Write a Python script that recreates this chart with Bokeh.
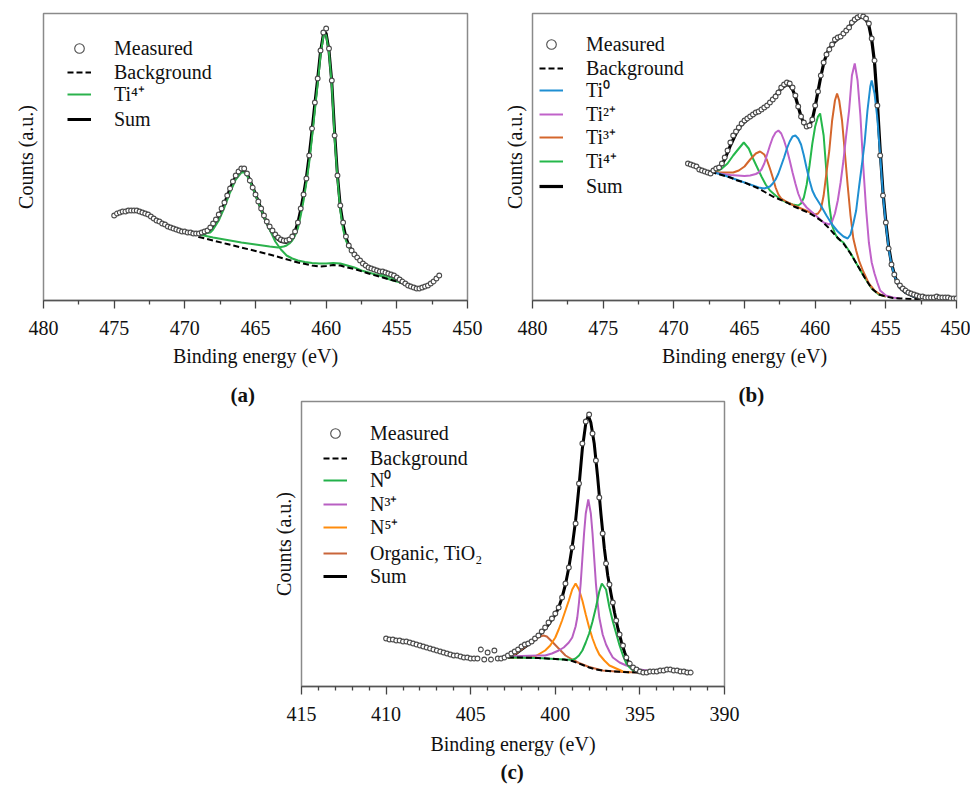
import numpy as np
from bokeh.plotting import figure
from bokeh.models import Range1d, FixedTicker, Legend, LegendItem, Title, Spacer
from bokeh.layouts import row, column
from bokeh.embed import file_html
from bokeh.resources import INLINE

FONT = "Liberation Serif, Times New Roman, serif"

# ---------------- Panel (a): Ti 2p, single Ti4+ state ----------------
a_meas_start, a_meas_step = 475.0, 0.2
a_meas_counts = [
    85, 87, 88, 89, 89, 90, 90, 90, 90, 89,
    88, 87, 86, 84, 82, 80, 79, 77, 76, 74,
    73, 72, 71, 70, 69, 69, 68, 68, 67, 67,
    67, 68, 69, 70, 73, 77, 81, 86, 92, 98,
    105, 112, 119, 125, 129, 132, 132, 127, 120, 113,
    106, 99, 92, 85, 79, 74, 70, 66, 63, 61,
    60, 60, 61, 64, 69, 78, 92, 106, 122, 145,
    172, 198, 222, 250, 268, 272, 252, 220, 165, 125,
    95, 78, 64, 55, 50, 46, 43, 40, 37, 35,
    33, 32, 31, 30, 29, 29, 28, 27, 26, 25,
    23, 21, 19, 17, 15, 14, 13, 12, 12, 13,
    14, 15, 17, 19, 22, 25]
a_meas_energy = np.round(a_meas_start - a_meas_step * np.arange(len(a_meas_counts)), 2)

a_sum_energy = [469.6, 469.0, 468.6, 468.2, 468.0, 467.6, 467.2, 466.8, 466.4, 466.0,
                465.8, 465.6, 465.2, 464.8, 464.4, 464.0, 463.6, 463.2, 462.8, 462.4,
                462.2, 462.0, 461.8, 461.6, 461.4, 461.2, 461.0, 460.8, 460.6, 460.4,
                460.2, 460.1, 460.0, 459.8, 459.6, 459.4, 459.2, 459.0, 458.8, 458.6,
                458.4, 458.0, 457.5, 457.0, 456.5, 456.0, 455.5, 455.0, 454.5, 454.0, 453.8]
a_sum_counts = [68, 66.5, 67, 70, 74, 84, 97, 112, 124, 130,
                130, 127, 114, 99, 84, 72, 63, 59, 58, 63,
                69, 78, 91, 106, 123, 145, 170, 197, 222, 249,
                266, 269, 267, 250, 218, 168, 125, 94, 76, 63,
                55, 46, 39, 33, 30, 28, 26, 22, 18, 14, 13]

a_bg_energy = [469.6, 469.0, 468.0, 467.0, 466.0, 465.0, 464.0, 463.0, 462.0, 461.0,
               460.5, 460.0, 459.5, 459.0, 458.5, 458.0, 457.0, 456.0, 455.0, 454.4, 453.8]
a_bg_counts = [68, 63.5, 60, 56.5, 53, 49.5, 46, 42, 38, 35,
               34, 34.5, 35.5, 35, 33, 31.5, 27, 23, 19, 16, 13]

# Ti4+ 2p1/2 component (peak near 465.9 eV), drawn on the background
a_ti4_hi_energy = [469.6, 469.0, 468.6, 468.2, 468.0, 467.6, 467.2, 466.8, 466.4, 466.0,
                   465.8, 465.6, 465.2, 464.8, 464.4, 464.0, 463.6, 463.2, 462.8, 462.4,
                   462.0, 461.5, 461.0, 460.5, 460.0, 459.5, 459.0, 458.5, 458.0, 457.5,
                   457.0, 456.5, 456.0, 455.5, 455.0, 454.5, 454.0, 453.8]
a_ti4_hi_counts = [68, 67, 67, 68, 71, 80, 93, 108, 121, 128,
                   128, 125, 113, 98, 84, 71, 59, 51, 45, 42,
                   40, 38.5, 37.5, 37, 37, 37.5, 37, 35, 33, 30,
                   28, 26, 24, 21, 19, 17, 14, 13]

# Ti4+ 2p3/2 component (peak near 460.1 eV)
a_ti4_lo_energy = [469.6, 469.0, 468.0, 467.0, 466.0, 465.0, 464.0, 463.4, 463.0, 462.8,
                   462.6, 462.4, 462.2, 462.0, 461.8, 461.6, 461.4, 461.2, 461.0, 460.8,
                   460.6, 460.4, 460.2, 460.1, 460.0, 459.8, 459.6, 459.4, 459.2, 459.0,
                   458.8, 458.6, 458.4, 458.2, 458.0, 457.5, 457.0, 456.5, 456.0, 455.5,
                   455.0, 454.5, 454.0, 453.8]
a_ti4_lo_counts = [68, 66, 63, 60.5, 58, 56, 54, 53, 54, 55,
                   57, 60, 65, 72, 85, 100, 118, 138, 163, 190,
                   217, 245, 264, 267, 265, 248, 215, 162, 122, 90,
                   71, 60, 53, 49, 45, 38, 33, 29, 26, 23.5,
                   20.5, 17, 14, 13]

# ---------------- Panel (b): Ti 2p, four oxidation states ----------------
b_meas_start, b_meas_step = 469.0, 0.2
b_meas_counts = [
    137, 136, 135, 134, 131, 130, 129, 128, 127, 130,
    132, 133, 137, 143, 150, 158, 165, 169, 173, 177,
    180, 182, 184, 186, 188, 189, 191, 193, 195, 198,
    201, 204, 208, 213, 216, 218, 217, 213, 205, 194,
    184, 178, 174, 175, 181, 195, 209, 225, 238, 246,
    251, 256, 261, 263, 264, 267, 270, 273, 278, 281,
    283, 285, 284, 282, 277, 262, 240, 195, 145, 105,
    78, 52, 36, 26, 19, 15, 12, 10, 8, 7,
    6, 5, 4, 4, 3, 3, 3, 3, 4, 3,
    3, 3, 3, 2, 2, 2]
b_meas_energy = np.round(b_meas_start - b_meas_step * np.arange(len(b_meas_counts)), 2)

b_sum_energy = [467.6, 467.2, 466.8, 466.4, 466.0, 465.6, 465.2, 464.8, 464.4, 464.0,
                463.6, 463.2, 462.8, 462.4, 462.0, 461.8, 461.6, 461.4, 461.2, 461.0,
                460.8, 460.6, 460.4, 460.2, 460.0, 459.8, 459.6, 459.4, 459.2, 459.0,
                458.6, 458.2, 457.8, 457.4, 457.0, 456.8, 456.6, 456.4, 456.2, 456.0,
                455.8, 455.6, 455.4, 455.2, 455.0, 454.8, 454.6, 454.4, 454.2, 454.0,
                453.6, 453.0, 452.5]
b_sum_counts = [128, 129, 132, 141, 155, 167, 176, 181, 185, 189,
                193, 198, 205, 212, 216, 215, 211, 204, 194, 184,
                177, 174, 175, 181, 194, 209, 224, 237, 246, 252,
                259, 264, 270, 277, 282, 283, 283, 281, 275, 261,
                238, 198, 150, 108, 78, 54, 37, 26, 18, 13,
                8, 4, 2.5]

b_bg_energy = [467.4, 467.0, 466.5, 466.0, 465.5, 465.0, 464.5, 464.0, 463.5, 463.0,
               462.5, 462.0, 461.5, 461.0, 460.5, 460.0, 459.5, 459.0, 458.5, 458.0,
               457.5, 457.0, 456.5, 456.0, 455.5, 455.0, 454.5, 454.0, 453.0, 452.5]
b_bg_counts = [129, 127, 125, 123, 120, 118, 115, 112, 108, 104,
               101, 98, 94, 91, 88, 84, 79, 72, 64, 57,
               47, 35, 23, 12, 6, 4, 2.5, 2, 1.5, 1.5]

b_ti0_energy = [467.4, 466.5, 465.5, 464.5, 464.0, 463.6, 463.2, 463.0, 462.8, 462.6,
                462.4, 462.2, 462.0, 461.8, 461.6, 461.4, 461.2, 461.0, 460.8, 460.6,
                460.4, 460.2, 460.0, 459.6, 459.2, 458.8, 458.4, 458.0, 457.7, 457.5,
                457.3, 457.1, 456.9, 456.7, 456.5, 456.3, 456.1, 456.0, 455.8, 455.6,
                455.4, 455.2, 455.0, 454.8, 454.6, 454.4, 454.2, 454.0, 453.6, 453.0, 452.5]
b_ti0_counts = [129, 125.5, 120.5, 115.5, 113, 112, 114, 117, 121, 127,
                135, 143, 152, 159, 164, 165, 162, 156, 145, 132,
                120, 110, 104, 95, 85, 76, 69, 64, 62, 66,
                77, 90, 113, 135, 158, 190, 214, 220, 207, 182,
                145, 105, 76, 52, 36, 25, 18, 13, 8, 4, 2.5]

b_ti2_energy = [467.4, 467.0, 466.5, 466.0, 465.5, 465.0, 464.6, 464.2, 464.0, 463.8,
                463.6, 463.4, 463.2, 463.0, 462.8, 462.6, 462.4, 462.2, 462.0, 461.8,
                461.6, 461.4, 461.2, 461.0, 460.6, 460.2, 459.8, 459.4, 459.0, 458.8,
                458.6, 458.4, 458.2, 458.0, 457.8, 457.6, 457.4, 457.2, 457.0, 456.8,
                456.6, 456.4, 456.2, 456.0, 455.8, 455.6, 455.4, 455.0, 454.5, 454.0]
b_ti2_counts = [129, 127.5, 126.5, 125.5, 125, 124.5, 125, 126.5, 128, 131,
                137, 146, 155, 163, 168, 170, 167, 160, 151, 140,
                128, 117, 107, 100, 93, 88, 83, 78, 76, 79,
                87, 100, 118, 140, 166, 190, 225, 237, 220, 185,
                135, 92, 58, 38, 27, 18, 10, 5, 3, 2]

b_ti3_energy = [467.4, 466.8, 466.2, 465.8, 465.4, 465.0, 464.6, 464.2, 463.9, 463.6,
                463.4, 463.2, 463.0, 462.8, 462.6, 462.4, 462.0, 461.5, 461.0, 460.5,
                460.0, 459.8, 459.6, 459.4, 459.2, 459.0, 458.8, 458.6, 458.45, 458.3,
                458.1, 457.9, 457.7, 457.5, 457.3, 457.1, 456.9, 456.6, 456.2, 455.8,
                455.4, 455.0]
b_ti3_counts = [129, 128, 128, 128, 130, 134, 141, 147, 149, 146,
                140, 132, 123, 113, 106, 102, 98.5, 95, 92, 89,
                86, 87, 91, 105, 128, 150, 180, 200, 207, 200,
                180, 148, 115, 85, 62, 50, 40, 29, 17, 10,
                6, 4]

b_ti4_energy = [467.4, 467.0, 466.6, 466.2, 465.8, 465.4, 465.05, 464.7, 464.4, 464.1,
                463.8, 463.5, 463.2, 462.8, 462.4, 462.0, 461.6, 461.2, 461.0, 460.8,
                460.6, 460.4, 460.2, 460.0, 459.8, 459.65, 459.4, 459.2, 459.0, 458.8,
                458.6, 458.4, 458.0, 457.5, 457.0, 456.5, 456.0, 455.5, 455.0]
b_ti4_counts = [129, 129, 132, 137, 145, 152, 158, 152, 142, 133,
                124, 116, 110, 105, 101, 98, 96, 95, 97, 103,
                116, 135, 157, 174, 184, 187, 165, 128, 95, 75,
                67, 62, 58, 47.5, 35, 23, 12, 6, 4]

# ---------------- Panel (c): N 1s ----------------
c_meas_start, c_meas_step = 410.0, 0.2
c_meas_counts = [
    48, 47, 47, 46, 46, 45, 45, 44, 43, 42,
    41, 40, 39, 38, 37, 36, 35, 34, 33, 32,
    31, 31, 30, 29, 29, 28, 28, 28, 37, 27,
    34, 27, 36, 28, 28, 29, 31, 33, 35, 37,
    40, 42, 43, 45, 48, 51, 55, 59, 64, 68,
    73, 79, 89, 103, 119, 139, 163, 203, 243, 265,
    272, 253, 226, 189, 153, 123, 102, 84, 66, 52,
    41, 29, 23, 19, 17, 15, 14, 14, 15, 15,
    15, 16, 16, 17, 17, 16, 16, 15, 15, 14,
    14]
c_meas_energy = np.round(c_meas_start - c_meas_step * np.arange(len(c_meas_counts)), 2)

c_sum_energy = [402.8, 402.4, 402.0, 401.6, 401.2, 400.8, 400.4, 400.0, 399.8, 399.6,
                399.4, 399.2, 399.0, 398.8, 398.6, 398.4, 398.2, 398.05, 397.9, 397.7,
                397.5, 397.3, 397.1, 396.9, 396.7, 396.5, 396.3, 396.1, 395.9, 395.7,
                395.5, 395.3, 395.1]
c_sum_counts = [29, 32, 37, 42, 47, 54, 62, 72, 79, 89,
                102, 119, 140, 166, 200, 238, 263, 271, 264, 243,
                210, 172, 138, 111, 92, 74, 58, 45, 34, 25,
                19, 16, 15]

c_bg_energy = [402.8, 402.0, 401.0, 400.5, 400.0, 399.5, 399.0, 398.6, 398.3, 398.0,
               397.6, 397.2, 396.6, 396.0, 395.0, 394.6]
c_bg_counts = [29, 29, 28.5, 28, 27.5, 27, 25.5, 23, 21, 19,
               17, 16, 15, 14.5, 14, 14]

c_n0_energy = [402.8, 401.0, 400.0, 399.4, 399.0, 398.8, 398.6, 398.4, 398.2, 398.0,
               397.8, 397.6, 397.4, 397.25, 397.0, 396.8, 396.6, 396.4, 396.2, 396.0,
               395.8, 395.6, 395.4, 395.2, 395.0]
c_n0_counts = [29, 28.5, 27.5, 27, 26.5, 28, 31, 36, 44, 53,
               65, 79, 95, 103, 97, 79, 65, 53, 41, 31,
               23, 19, 16, 14.5, 14]

c_n3_energy = [402.8, 402.0, 401.0, 400.6, 400.2, 399.8, 399.5, 399.2, 399.0, 398.8,
               398.7, 398.6, 398.5, 398.4, 398.3, 398.2, 398.05, 397.9, 397.8, 397.7,
               397.6, 397.5, 397.4, 397.2, 397.0, 396.8, 396.6, 396.2, 395.8, 395.4,
               395.0, 394.6, 394.2]
c_n3_counts = [30, 30.5, 31, 31, 33, 36, 39, 44, 49, 60,
               69, 84, 103, 128, 153, 173, 187, 173, 153, 128,
               103, 84, 69, 52, 42, 35, 29, 24, 21, 19,
               17, 16, 15]

c_n5_energy = [402.8, 402.0, 401.5, 401.2, 400.9, 400.6, 400.3, 400.0, 399.8, 399.6,
               399.4, 399.2, 399.0, 398.8, 398.6, 398.4, 398.2, 398.0, 397.8, 397.6,
               397.4, 397.1, 396.8, 396.4, 396.0, 395.6]
c_n5_counts = [29, 29, 29, 30, 33, 36, 41, 49, 57, 66,
               76, 86, 97, 103, 97, 86, 72, 59, 48, 39,
               32, 26, 21, 18, 15, 14]

c_org_energy = [402.8, 402.4, 402.0, 401.6, 401.2, 400.9, 400.7, 400.5, 400.2, 399.8,
                399.4, 399.0, 398.6, 398.0, 397.2, 396.0, 395.0]
c_org_counts = [29, 32, 37, 42, 47, 50, 51, 50, 45, 38,
                31, 27, 23.5, 19.5, 16, 14.5, 14]

# axis ticks
ti_ticks = [450, 455, 460, 465, 470, 475, 480]
ti_minor = [452.5, 457.5, 462.5, 467.5, 472.5, 477.5]
n_ticks = [390, 395, 400, 405, 410, 415]
n_minor = [391, 392, 393, 394, 396, 397, 398, 399, 401, 402, 403, 404,
           406, 407, 408, 409, 411, 412, 413, 414]

GREEN_A = "#2bb24c"
BLUE = "#1f8fd2"
MAGENTA = "#c062c9"
ORANGE_B = "#d4662c"
GREEN_B = "#25b84b"
GREEN_C = "#22b14a"
PURPLE_C = "#b85fc2"
ORANGE_C = "#ff8c0d"
BROWN_C = "#c9653a"

ROW_H = 24


def make_fig(width, height, xr, ymax, left, right, top, bottom):
    p = figure(width=width, height=height, x_range=Range1d(*xr), y_range=Range1d(0, ymax),
               output_backend="svg", toolbar_location=None,
               min_border_left=left, min_border_right=right,
               min_border_top=top, min_border_bottom=bottom)
    p.xgrid.visible = False
    p.ygrid.visible = False
    p.outline_line_color = "#8a8a8a"
    p.outline_line_width = 1.5
    return p


def style_axes(p, ticks, minor, label_standoff=7):
    xa = p.xaxis[0]
    xa.ticker = FixedTicker(ticks=ticks, minor_ticks=minor)
    xa.axis_label = "Binding energy (eV)"
    xa.axis_label_text_font = FONT
    xa.axis_label_text_font_size = "20px"
    xa.axis_label_text_font_style = "normal"
    xa.axis_label_text_color = "#111111"
    xa.axis_label_standoff = label_standoff
    xa.major_label_text_font = FONT
    xa.major_label_text_font_size = "20px"
    xa.major_label_text_color = "#111111"
    xa.major_label_standoff = 12
    xa.axis_line_color = "#555555"
    xa.axis_line_width = 1.5
    xa.major_tick_line_color = "#444444"
    xa.major_tick_line_width = 1.3
    xa.minor_tick_line_color = "#444444"
    xa.minor_tick_line_width = 1.3
    xa.major_tick_in = 0
    xa.major_tick_out = 8
    xa.minor_tick_in = 0
    xa.minor_tick_out = 4

    ya = p.yaxis[0]
    ya.ticker = FixedTicker(ticks=[])
    ya.axis_label = "Counts (a.u.)"
    ya.axis_label_text_font = FONT
    ya.axis_label_text_font_size = "20px"
    ya.axis_label_text_font_style = "normal"
    ya.axis_label_text_color = "#111111"
    ya.axis_label_standoff = 7
    ya.major_label_standoff = 0
    ya.major_tick_out = 0
    ya.major_tick_in = 0
    ya.minor_tick_out = 0
    ya.minor_tick_in = 0
    ya.axis_line_color = None


def add_caption(p, text, offset, standoff):
    p.add_layout(Title(text=text, align="left", offset=offset, standoff=standoff,
                       text_font=FONT, text_font_size="21px", text_font_style="bold",
                       text_color="#111111"), "below")


def add_legend(p, entries, x0, centers, frame_h):
    # one legend per row, so that every row sits exactly where it sits in the figure
    for (label, rend), c in zip(entries, centers):
        leg = Legend(items=[LegendItem(label=label, renderers=[rend])],
                     location=(x0, frame_h - c - ROW_H / 2),
                     background_fill_alpha=0, border_line_color=None,
                     padding=0, margin=0, spacing=0, glyph_width=24, glyph_height=ROW_H,
                     label_height=ROW_H, label_standoff=23, label_text_font=FONT,
                     label_text_font_size="20px", label_text_color="#111111")
        p.add_layout(leg)


def measured(p, e, c):
    return p.scatter(e, c, marker="circle", size=4.8, line_color="#4d4d4d",
                     fill_color="white", line_width=1.1)


# ---------------- figure (a) ----------------
fa = make_fig(497, 422, (480, 450), 287, 43, 30, 13, 122)
style_axes(fa, ti_ticks, ti_minor)
ra_sum = fa.line(a_sum_energy, a_sum_counts, line_color="black", line_width=3)
ra_hi = fa.line(a_ti4_hi_energy, a_ti4_hi_counts, line_color=GREEN_A, line_width=2)
ra_lo = fa.line(a_ti4_lo_energy, a_ti4_lo_counts, line_color=GREEN_A, line_width=2)
ra_bg = fa.line(a_bg_energy, a_bg_counts, line_color="black", line_width=2, line_dash="6 3")
ra_meas = measured(fa, a_meas_energy, a_meas_counts)
add_legend(fa, [("Measured", ra_meas), ("Background", ra_bg),
                ("Ti\u2074\u207a", ra_lo), ("Sum", ra_sum)],
           24, [35, 59, 82, 106], 287)
add_caption(fa, "(a)", 187, 22)

# ---------------- figure (b) ----------------
fb = make_fig(473, 422, (480, 450), 287, 35, 14, 13, 122)
style_axes(fb, ti_ticks, ti_minor)
rb_sum = fb.line(b_sum_energy, b_sum_counts, line_color="black", line_width=3.2)
rb_ti4 = fb.line(b_ti4_energy, b_ti4_counts, line_color=GREEN_B, line_width=2)
rb_ti3 = fb.line(b_ti3_energy, b_ti3_counts, line_color=ORANGE_B, line_width=2)
rb_ti2 = fb.line(b_ti2_energy, b_ti2_counts, line_color=MAGENTA, line_width=2)
rb_ti0 = fb.line(b_ti0_energy, b_ti0_counts, line_color=BLUE, line_width=2)
rb_bg = fb.line(b_bg_energy, b_bg_counts, line_color="black", line_width=2, line_dash="6 3")
rb_meas = measured(fb, b_meas_energy, b_meas_counts)
add_legend(fb, [("Measured", rb_meas), ("Background", rb_bg),
                ("Ti\u2070", rb_ti0), ("Ti\u00b2\u207a", rb_ti2),
                ("Ti\u00b3\u207a", rb_ti3), ("Ti\u2074\u207a", rb_ti4), ("Sum", rb_sum)],
           7, [31, 55, 78, 102, 125, 149, 173], 287)
add_caption(fb, "(b)", 206, 22)

# ---------------- figure (c) ----------------
fc = make_fig(478, 397, (415, 390), 285, 35, 20, 11, 101)
style_axes(fc, n_ticks, n_minor, label_standoff=9)
fc.border_fill_color = None
rc_sum = fc.line(c_sum_energy, c_sum_counts, line_color="black", line_width=3)
rc_org = fc.line(c_org_energy, c_org_counts, line_color=BROWN_C, line_width=2)
rc_n5 = fc.line(c_n5_energy, c_n5_counts, line_color=ORANGE_C, line_width=2)
rc_n3 = fc.line(c_n3_energy, c_n3_counts, line_color=PURPLE_C, line_width=2)
rc_n0 = fc.line(c_n0_energy, c_n0_counts, line_color=GREEN_C, line_width=2)
rc_bg = fc.line(c_bg_energy, c_bg_counts, line_color="black", line_width=2, line_dash="6 3")
rc_meas = measured(fc, c_meas_energy, c_meas_counts)
add_legend(fc, [("Measured", rc_meas), ("Background", rc_bg),
                ("N\u2070", rc_n0), ("N\u00b3\u207a", rc_n3), ("N\u2075\u207a", rc_n5),
                ("Organic, TiO\u2082", rc_org), ("Sum", rc_sum)],
           22, [32, 57, 80, 104, 127, 152, 175], 285)
add_caption(fc, "(c)", 199, 0)

layout = column(row(fa, fb),
                row(Spacer(width=266, height=397), fc, margin=(-32, 0, 0, 0)))

open("out.html", "w").write(file_html(layout, INLINE))
